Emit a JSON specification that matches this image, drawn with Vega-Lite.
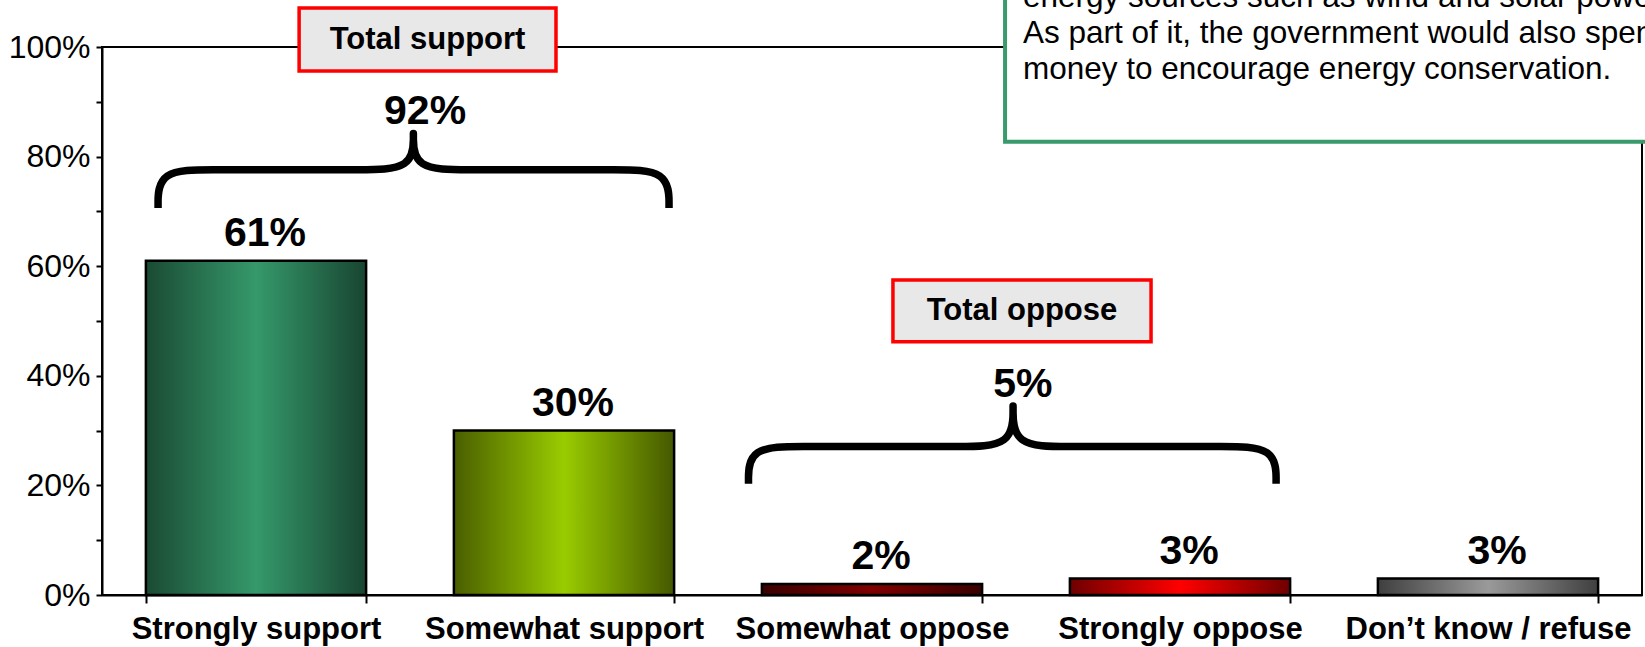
{
  "$schema": "https://vega.github.io/schema/vega-lite/v6.json",
  "width": 1540,
  "height": 548,
  "autosize": {"type": "none"},
  "padding": {"left": 102, "top": 47, "right": 3, "bottom": 52},
  "background": "white",
  "config": {
    "view": {"stroke": "black", "strokeWidth": 2},
    "font": "Liberation Sans"
  },
  "datasets": {
    "bars": [
      {"cat": "Strongly support", "value": 61, "label": "61%"},
      {"cat": "Somewhat support", "value": 30, "label": "30%"},
      {"cat": "Somewhat oppose", "value": 2, "label": "2%"},
      {"cat": "Strongly oppose", "value": 3, "label": "3%"},
      {"cat": "Don’t know / refuse", "value": 3, "label": "3%"}
    ],
    "braces": [
      {"brace": "support", "i": 0, "bx": 0.182, "by": 70.6},
      {"brace": "support", "i": 1, "bx": 0.182, "by": 70.6},
      {"brace": "support", "i": 2, "bx": 0.182, "by": 70.6},
      {"brace": "support", "i": 3, "bx": 0.182, "by": 77.6},
      {"brace": "support", "i": 4, "bx": 0.362, "by": 77.6},
      {"brace": "support", "i": 5, "bx": 0.542, "by": 77.6},
      {"brace": "support", "i": 6, "bx": 0.651, "by": 77.6},
      {"brace": "support", "i": 7, "bx": 0.831, "by": 77.6},
      {"brace": "support", "i": 8, "bx": 1.011, "by": 77.6},
      {"brace": "support", "i": 9, "bx": 1.011, "by": 84.2},
      {"brace": "support", "i": 10, "bx": 1.011, "by": 84.2},
      {"brace": "support", "i": 11, "bx": 1.011, "by": 84.2},
      {"brace": "support", "i": 12, "bx": 1.011, "by": 77.6},
      {"brace": "support", "i": 13, "bx": 1.191, "by": 77.6},
      {"brace": "support", "i": 14, "bx": 1.371, "by": 77.6},
      {"brace": "support", "i": 15, "bx": 1.481, "by": 77.6},
      {"brace": "support", "i": 16, "bx": 1.661, "by": 77.6},
      {"brace": "support", "i": 17, "bx": 1.841, "by": 77.6},
      {"brace": "support", "i": 18, "bx": 1.841, "by": 70.6},
      {"brace": "support", "i": 19, "bx": 1.841, "by": 70.6},
      {"brace": "support", "i": 20, "bx": 1.841, "by": 70.6},
      {"brace": "oppose", "i": 0, "bx": 2.099, "by": 20.3},
      {"brace": "oppose", "i": 1, "bx": 2.099, "by": 20.3},
      {"brace": "oppose", "i": 2, "bx": 2.099, "by": 20.3},
      {"brace": "oppose", "i": 3, "bx": 2.099, "by": 27.1},
      {"brace": "oppose", "i": 4, "bx": 2.279, "by": 27.1},
      {"brace": "oppose", "i": 5, "bx": 2.459, "by": 27.1},
      {"brace": "oppose", "i": 6, "bx": 2.598, "by": 27.1},
      {"brace": "oppose", "i": 7, "bx": 2.778, "by": 27.1},
      {"brace": "oppose", "i": 8, "bx": 2.958, "by": 27.1},
      {"brace": "oppose", "i": 9, "bx": 2.958, "by": 34.5},
      {"brace": "oppose", "i": 10, "bx": 2.958, "by": 34.5},
      {"brace": "oppose", "i": 11, "bx": 2.958, "by": 34.5},
      {"brace": "oppose", "i": 12, "bx": 2.958, "by": 27.1},
      {"brace": "oppose", "i": 13, "bx": 3.138, "by": 27.1},
      {"brace": "oppose", "i": 14, "bx": 3.318, "by": 27.1},
      {"brace": "oppose", "i": 15, "bx": 3.452, "by": 27.1},
      {"brace": "oppose", "i": 16, "bx": 3.632, "by": 27.1},
      {"brace": "oppose", "i": 17, "bx": 3.812, "by": 27.1},
      {"brace": "oppose", "i": 18, "bx": 3.812, "by": 20.3},
      {"brace": "oppose", "i": 19, "bx": 3.812, "by": 20.3},
      {"brace": "oppose", "i": 20, "bx": 3.812, "by": 20.3}
    ],
    "boxes": [
      {"name": "Total support", "x1": 0.640, "x2": 1.474, "y1": 95.6, "y2": 107.1, "tx": 1.057, "ty": 101.3},
      {"name": "Total oppose", "x1": 2.568, "x2": 3.406, "y1": 46.2, "y2": 57.5, "tx": 2.987, "ty": 51.8}
    ],
    "totals": [
      {"label": "92%", "tx": 1.049, "ty": 85.9},
      {"label": "5%", "tx": 2.990, "ty": 36.1}
    ],
    "notebox": [
      {"x1": 2.932, "x2": 5.4, "y1": 82.7, "y2": 115}
    ],
    "note": [
      {"text": "energy sources such as wind and solar power.", "tx": 2.990, "ty": 107.3},
      {"text": "As part of it, the government would also spend", "tx": 2.990, "ty": 100.7},
      {"text": "money to encourage energy conservation.", "tx": 2.990, "ty": 94.2}
    ]
  },
  "layer": [
    {
      "data": {"name": "bars"},
      "encoding": {
        "x": {
          "field": "cat",
          "type": "nominal",
          "sort": null,
          "title": null,
          "scale": {
            "domain": ["Strongly support", "Somewhat support", "Somewhat oppose", "Strongly oppose", "Don’t know / refuse"],
            "paddingInner": 0.285,
            "paddingOuter": 0.1425
          },
          "axis": {
            "title": null,
            "labelAngle": 0,
            "labelFont": "Liberation Sans",
            "labelFontSize": 31,
            "labelFontWeight": "bold",
            "labelColor": "black",
            "labelPadding": 11,
            "labelLimit": 400,
            "labelOverlap": false,
            "tickBand": "extent",
            "tickSize": 8,
            "tickWidth": 2,
            "tickColor": "black",
            "domainColor": "black",
            "domainWidth": 2,
            "grid": false
          }
        },
        "y": {
          "field": "value",
          "type": "quantitative",
          "title": null,
          "scale": {"domain": [0, 100], "nice": false, "zero": true},
          "axis": {
            "title": null,
            "values": [0, 5, 10, 15, 20, 25, 30, 35, 40, 45, 50, 55, 60, 65, 70, 75, 80, 85, 90, 95, 100],
            "labelExpr": "datum.value % 20 === 0 ? datum.value + '%' : ''",
            "labelFont": "Liberation Sans",
            "labelFontSize": 32,
            "labelColor": "black",
            "labelPadding": 6,
            "tickSize": 6,
            "tickWidth": 2,
            "tickColor": "black",
            "domainColor": "black",
            "domainWidth": 2,
            "grid": false
          }
        }
      },
      "layer": [
        {
          "transform": [{"filter": {"field": "cat", "equal": "Strongly support"}}],
          "mark": {"type": "bar", "stroke": "black", "strokeWidth": 2.5,
            "fill": {"gradient": "linear", "x1": 0, "y1": 0, "x2": 1, "y2": 0,
              "stops": [{"offset": 0, "color": "#1a4a33"}, {"offset": 0.5, "color": "#35996b"}, {"offset": 1, "color": "#184531"}]}}
        },
        {
          "transform": [{"filter": {"field": "cat", "equal": "Somewhat support"}}],
          "mark": {"type": "bar", "stroke": "black", "strokeWidth": 2.5,
            "fill": {"gradient": "linear", "x1": 0, "y1": 0, "x2": 1, "y2": 0,
              "stops": [{"offset": 0, "color": "#4a5e00"}, {"offset": 0.5, "color": "#99cc00"}, {"offset": 1, "color": "#455800"}]}}
        },
        {
          "transform": [{"filter": {"field": "cat", "equal": "Somewhat oppose"}}],
          "mark": {"type": "bar", "stroke": "black", "strokeWidth": 2.5,
            "fill": {"gradient": "linear", "x1": 0, "y1": 0, "x2": 1, "y2": 0,
              "stops": [{"offset": 0, "color": "#3a0000"}, {"offset": 0.5, "color": "#800000"}, {"offset": 1, "color": "#3a0000"}]}}
        },
        {
          "transform": [{"filter": {"field": "cat", "equal": "Strongly oppose"}}],
          "mark": {"type": "bar", "stroke": "black", "strokeWidth": 2.5,
            "fill": {"gradient": "linear", "x1": 0, "y1": 0, "x2": 1, "y2": 0,
              "stops": [{"offset": 0, "color": "#6e0000"}, {"offset": 0.5, "color": "#ff0000"}, {"offset": 1, "color": "#6e0000"}]}}
        },
        {
          "transform": [{"filter": {"field": "cat", "equal": "Don’t know / refuse"}}],
          "mark": {"type": "bar", "stroke": "black", "strokeWidth": 2.5,
            "fill": {"gradient": "linear", "x1": 0, "y1": 0, "x2": 1, "y2": 0,
              "stops": [{"offset": 0, "color": "#3f3f3f"}, {"offset": 0.5, "color": "#9a9a9a"}, {"offset": 1, "color": "#3f3f3f"}]}}
        },
        {
          "mark": {"type": "text", "font": "Liberation Sans", "fontSize": 41, "fontWeight": "bold", "color": "black", "baseline": "alphabetic", "align": "center", "dy": -15, "dx": 9},
          "encoding": {"text": {"field": "label"}}
        }
      ]
    },
    {
      "layer": [
        {
          "data": {"name": "braces"},
          "mark": {"type": "line", "interpolate": "basis", "stroke": "black", "strokeWidth": 7.5, "strokeCap": "butt", "strokeJoin": "round"},
          "encoding": {
            "x": {"field": "bx", "type": "quantitative", "scale": {"domain": [0, 5], "nice": false, "zero": false}, "axis": null, "title": null},
            "y": {"field": "by", "type": "quantitative", "scale": {"domain": [0, 100], "nice": false}, "title": null},
            "detail": {"field": "brace"},
            "order": {"field": "i", "type": "quantitative"}
          }
        },
        {
          "data": {"name": "totals"},
          "mark": {"type": "text", "font": "Liberation Sans", "fontSize": 41, "fontWeight": "bold", "color": "black", "baseline": "alphabetic", "align": "center"},
          "encoding": {
            "x": {"field": "tx", "type": "quantitative", "scale": {"domain": [0, 5], "nice": false, "zero": false}, "axis": null, "title": null},
            "y": {"field": "ty", "type": "quantitative", "scale": {"domain": [0, 100], "nice": false}, "title": null},
            "text": {"field": "label"}
          }
        },
        {
          "data": {"name": "boxes"},
          "mark": {"type": "rect", "fill": "#e8e8e8", "stroke": "#ff0000", "strokeWidth": 3.5},
          "encoding": {
            "x": {"field": "x1", "type": "quantitative", "scale": {"domain": [0, 5], "nice": false, "zero": false}, "axis": null, "title": null},
            "x2": {"field": "x2"},
            "y": {"field": "y1", "type": "quantitative", "scale": {"domain": [0, 100], "nice": false}, "title": null},
            "y2": {"field": "y2"}
          }
        },
        {
          "data": {"name": "boxes"},
          "mark": {"type": "text", "font": "Liberation Sans", "fontSize": 31, "fontWeight": "bold", "color": "black", "baseline": "middle", "align": "center"},
          "encoding": {
            "x": {"field": "tx", "type": "quantitative", "scale": {"domain": [0, 5], "nice": false, "zero": false}, "axis": null, "title": null},
            "y": {"field": "ty", "type": "quantitative", "scale": {"domain": [0, 100], "nice": false}, "title": null},
            "text": {"field": "name"}
          }
        },
        {
          "data": {"name": "notebox"},
          "mark": {"type": "rect", "fill": "white", "stroke": "#3a9a6c", "strokeWidth": 4},
          "encoding": {
            "x": {"field": "x1", "type": "quantitative", "scale": {"domain": [0, 5], "nice": false, "zero": false}, "axis": null, "title": null},
            "x2": {"field": "x2"},
            "y": {"field": "y1", "type": "quantitative", "scale": {"domain": [0, 100], "nice": false}, "title": null},
            "y2": {"field": "y2"}
          }
        },
        {
          "data": {"name": "note"},
          "mark": {"type": "text", "font": "Liberation Sans", "fontSize": 31.5, "color": "black", "baseline": "alphabetic", "align": "left"},
          "encoding": {
            "x": {"field": "tx", "type": "quantitative", "scale": {"domain": [0, 5], "nice": false, "zero": false}, "axis": null, "title": null},
            "y": {"field": "ty", "type": "quantitative", "scale": {"domain": [0, 100], "nice": false}, "title": null},
            "text": {"field": "text"}
          }
        }
      ]
    }
  ],
  "resolve": {"scale": {"x": "independent"}}
}
